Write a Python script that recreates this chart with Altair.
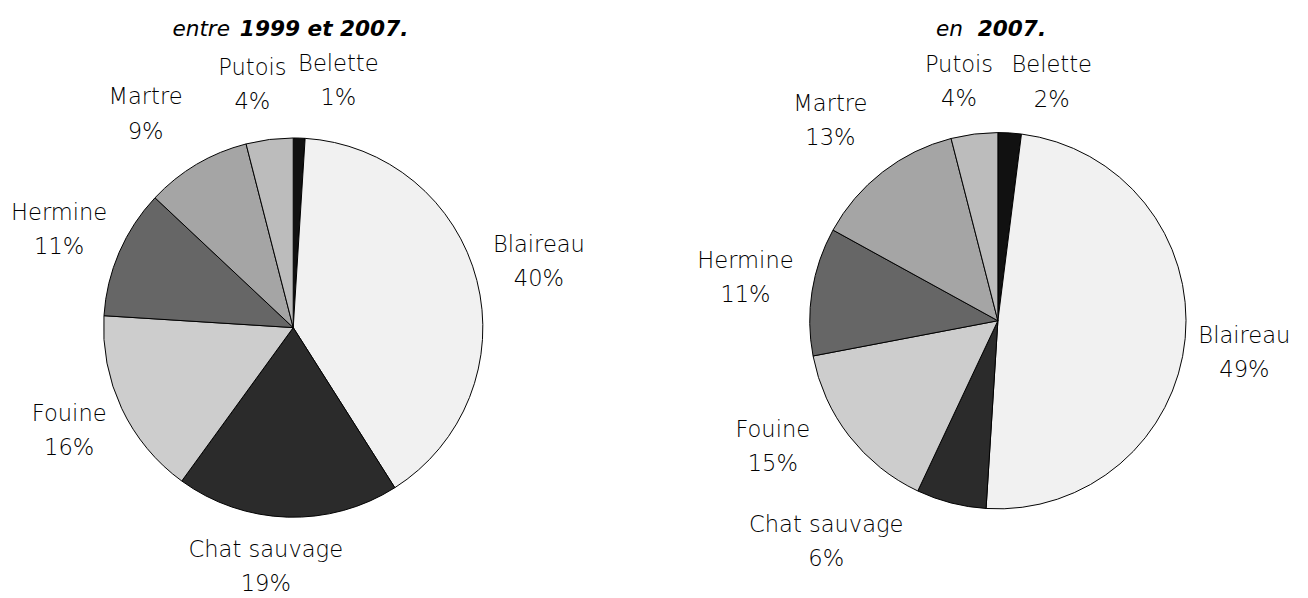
import json
import altair as alt
import pandas as pd

# ---- data ----
animals = ["Belette", "Blaireau", "Chat sauvage", "Fouine", "Hermine", "Martre", "Putois"]
pct_1999_2007 = [1, 40, 19, 16, 11, 9, 4]
pct_2007 = [2, 49, 6, 15, 11, 13, 4]
title_left = ["entre", "1999 et 2007."]
title_right = ["en", "2007."]

# grey shades standing in for the black & white hatch patterns
greys = ["#111111", "#f1f1f1", "#2b2b2b", "#cdcdcd", "#666666", "#a5a5a5", "#bcbcbc"]

FONT = "DejaVu Sans"
PANEL_W, PANEL_H = 646, 575
LINE_H = 35


def frame(values):
    return pd.DataFrame({"animal": animals, "pct": values,
                         "ordre": list(range(len(animals)))})


def panel(values, title, cx, cy, R, LR, tweaks, tx, ty, gap):
    df = frame(values)
    base = alt.Chart(df).encode(
        theta=alt.Theta("pct:Q", stack=True),
        order=alt.Order("ordre:Q", sort="ascending"),
    )
    arcs = base.mark_arc(x=cx, y=cy, radius=R, stroke="black", strokeWidth=1).encode(
        fill=alt.Fill("animal:N", scale=alt.Scale(domain=animals, range=greys), legend=None)
    )
    layers = [arcs]
    for a in animals:
        dx, dy = tweaks.get(a, (0, 0))
        expr = "datum.animal == %s ? datum.animal + '\\n' + datum.pct + '%%' : ''" % json.dumps(a)
        layers.append(
            base.transform_calculate(label=expr)
            .mark_text(x=cx, y=cy, radius=LR, dx=dx, dy=dy - LINE_H / 2, font=FONT,
                       fontSize=23, fontWeight=200, lineHeight=LINE_H, lineBreak="\n",
                       align="center", baseline="middle", color="black")
            .encode(text="label:N")
        )
    tdf = pd.DataFrame({"a": [title[0]], "b": [title[1]]})
    tbase = alt.Chart(tdf)
    layers.append(tbase.mark_text(x=tx, y=ty, align="right", baseline="alphabetic",
                                  font=FONT, fontSize=22, fontStyle="italic",
                                  color="black").encode(text="a:N"))
    layers.append(tbase.mark_text(x=tx + gap, y=ty, align="left", baseline="alphabetic",
                                  font=FONT, fontSize=22, fontStyle="italic", fontWeight="bold",
                                  color="black").encode(text="b:N"))
    return alt.layer(*layers).properties(width=PANEL_W, height=PANEL_H)


left = panel(pct_1999_2007, title_left, 290.3, 320, 193, 252,
             {"Belette": (38, 1), "Blaireau": (6, -4), "Chat sauvage": (-20, -8),
              "Fouine": (0, -2), "Hermine": (-7, 1), "Martre": (-22, 0), "Putois": (-10, 3)},
             226, 23, 10)
right = panel(pct_2007, title_right, 338.5, 313, 191.5, 252,
              {"Belette": (39, 9), "Blaireau": (0, 9), "Chat sauvage": (-112, -19),
               "Fouine": (-30, -26), "Hermine": (-8, -4), "Martre": (-16, -4), "Putois": (-8, 7)},
              303, 23, 15)

chart = alt.hconcat(left, right, spacing=0).properties(padding=0).configure_view(stroke=None)

chart.save("out.html", embed_options={"renderer": "svg", "actions": False})
